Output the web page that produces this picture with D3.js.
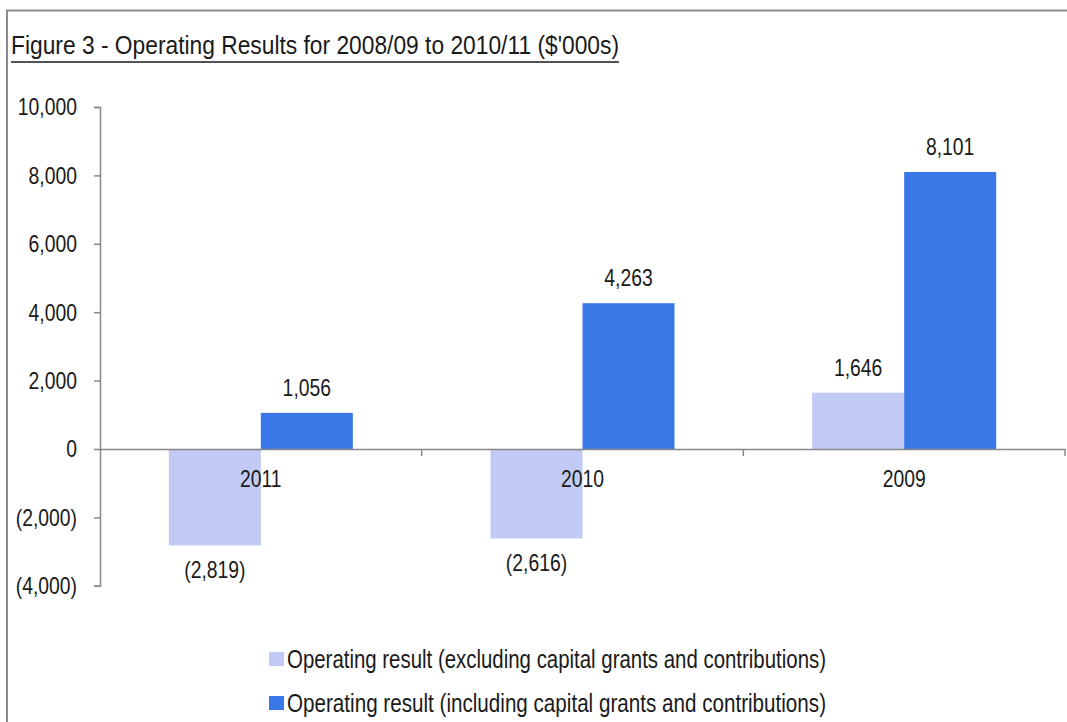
<!DOCTYPE html>
<html>
<head>
<meta charset="utf-8">
<script src="https://cdn.jsdelivr.net/npm/d3@7"></script>
<style>
  html, body { margin: 0; padding: 0; background: #fff; }
  svg { display: block; }
  text { font-family: "Liberation Sans", Arial, sans-serif; fill: #1a1a1a; }
</style>
</head>
<body>
<script>
// Operating results, $'000s
const categories = ["2011", "2010", "2009"];
const seriesNames = [
  "Operating result (excluding capital grants and contributions)",
  "Operating result (including capital grants and contributions)"
];
const excludingGrants = [-2819, -2616, 1646];
const includingGrants = [1056, 4263, 8101];
const yTicks = [-4000, -2000, 0, 2000, 4000, 6000, 8000, 10000];
const colors = ["#c0caf5", "#3a78e8"];

const W = 1067, H = 722;
const FS = 24.5;    // label font size
const SX = 0.79;    // horizontal squeeze for a narrow-looking face

const svg = d3.select("body").append("svg").attr("width", W).attr("height", H);

// squeeze text horizontally about its anchor point
function condense(sel, sx = SX) {
  sel.each(function () {
    const t = d3.select(this);
    const x0 = +t.attr("x") || 0;
    t.attr("x", x0 / sx).attr("transform", `scale(${sx},1)`);
  });
}

// frame (top and left edges only)
svg.append("path")
  .attr("d", `M7,${H} V10.5 H${W}`)
  .attr("fill", "none").attr("stroke", "#8c8c8c").attr("stroke-width", 2);

// title, underlined
const titleX = 11, titleW = 608;
svg.append("text")
  .attr("x", titleX).attr("y", 54)
  .attr("font-size", 25.5)
  .attr("textLength", titleW).attr("lengthAdjust", "spacingAndGlyphs")
  .text("Figure 3 - Operating Results for 2008/09 to 2010/11 ($'000s)");
svg.append("line")
  .attr("x1", titleX).attr("x2", titleX + titleW)
  .attr("y1", 62).attr("y2", 62)
  .attr("stroke", "#1a1a1a").attr("stroke-width", 1.5);

const x0 = 100, x1 = 1065;
const y = d3.scaleLinear().domain([-4000, 10000]).range([585.8, 107]);
const x = d3.scaleBand().domain(categories).range([x0, x1]).paddingInner(0).paddingOuter(0);
const groupW = 184;
const xs = d3.scaleBand().domain([0, 1]).range([0, groupW]);

const fmt = v => v < 0 ? "(" + d3.format(",")(-v) + ")" : d3.format(",")(v);

// y axis
const yAxis = svg.append("g").attr("transform", `translate(${x0},0)`)
  .call(d3.axisLeft(y).tickValues(yTicks).tickSize(6).tickSizeOuter(6).tickFormat(fmt).tickPadding(17));
yAxis.select(".domain").attr("stroke", "#888").attr("stroke-width", 1.5);
yAxis.selectAll(".tick line").attr("stroke", "#888").attr("stroke-width", 1.5);
yAxis.selectAll(".tick text").attr("font-size", FS).attr("fill", "#1a1a1a")
  .attr("font-family", '"Liberation Sans", Arial, sans-serif')
  .call(condense);

// bars
const data = categories.map((c, i) => ({ c, vals: [excludingGrants[i], includingGrants[i]] }));
const groups = svg.append("g").selectAll("g").data(data).join("g")
  .attr("transform", d => `translate(${x(d.c) + (x.bandwidth() - groupW) / 2},0)`);

groups.selectAll("rect").data(d => d.vals.map((v, k) => ({ v, k }))).join("rect")
  .attr("x", d => xs(d.k))
  .attr("width", xs.bandwidth())
  .attr("y", d => y(Math.max(0, d.v)))
  .attr("height", d => Math.abs(y(d.v) - y(0)))
  .attr("fill", d => colors[d.k]);

groups.selectAll("text.val").data(d => d.vals.map((v, k) => ({ v, k }))).join("text")
  .attr("class", "val")
  .attr("x", d => xs(d.k) + xs.bandwidth() / 2)
  .attr("y", d => d.v >= 0 ? y(d.v) - 17 : y(d.v) + 33)
  .attr("text-anchor", "middle")
  .attr("font-size", FS)
  .text(d => fmt(d.v))
  .call(condense);

// x axis at zero
const xAxis = svg.append("g").attr("transform", `translate(0,${y(0)})`)
  .call(d3.axisBottom(x).tickSize(0).tickSizeOuter(0).tickFormat(""));
xAxis.select(".domain").attr("stroke", "#888").attr("stroke-width", 1.5);
xAxis.selectAll(".tick").remove();
// ticks on the boundaries between categories
const bounds = categories.map(c => x(c)).concat([x1]).slice(1);
svg.append("g").selectAll("line").data(bounds).join("line")
  .attr("x1", d => d).attr("x2", d => d)
  .attr("y1", y(0)).attr("y2", y(0) + 7)
  .attr("stroke", "#888").attr("stroke-width", 1.5);

// category labels
svg.append("g").selectAll("text").data(categories).join("text")
  .attr("x", c => x(c) + x.bandwidth() / 2)
  .attr("y", y(0) + 38)
  .attr("text-anchor", "middle")
  .attr("font-size", FS)
  .text(c => c)
  .call(condense);

// legend
const legend = svg.append("g").selectAll("g").data(seriesNames).join("g")
  .attr("transform", (d, i) => `translate(269,${668 + i * 44})`);
legend.append("rect").attr("y", -16).attr("width", 15).attr("height", 14).attr("fill", (d, i) => colors[i]);
legend.append("text").attr("x", 18).attr("y", 0).attr("font-size", 25)
  .attr("textLength", 539).attr("lengthAdjust", "spacingAndGlyphs")
  .text(d => d);
</script>
</body>
</html>
